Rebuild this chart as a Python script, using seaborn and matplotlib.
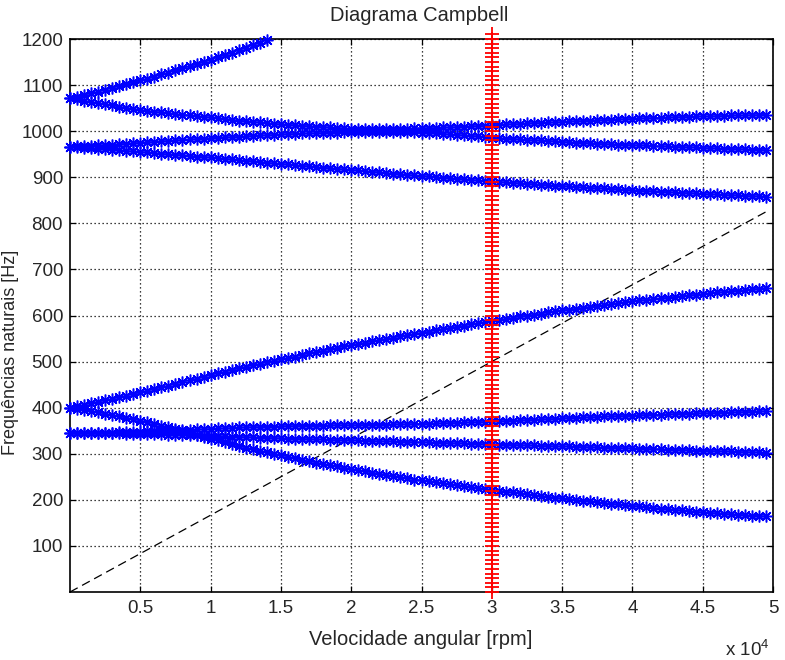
import numpy as np
import pandas as pd
import matplotlib
matplotlib.use("Agg")
import matplotlib.pyplot as plt
import seaborn as sns

# ---------------- data ----------------
rpm = np.arange(0, 50000, 500)            # sampling grid of the rotor speed (rpm)
rpm_a = rpm[:29]                          # first mode leaves the plot above 1200 Hz

mode_a = [1072, 1075, 1079, 1082, 1086, 1090, 1094, 1098, 1102, 1106,
          1110, 1114, 1118, 1123, 1127, 1132, 1136, 1141, 1145, 1150,
          1155, 1160, 1165, 1170, 1176, 1181, 1187, 1192, 1198]

mode_b = [1072, 1069, 1066, 1063, 1061, 1058, 1056, 1053, 1051, 1048,
          1046, 1044, 1042, 1041, 1039, 1037, 1036, 1034, 1033, 1031,
          1030, 1028, 1027, 1025, 1023, 1022, 1020, 1019, 1017, 1016,
          1015, 1014, 1013, 1012, 1011, 1010, 1009, 1008, 1007, 1006,
          1005, 1005, 1004, 1004, 1004, 1004, 1004, 1005, 1005, 1006,
          1006, 1007, 1007, 1008, 1008, 1009, 1010, 1011, 1011, 1012,
          1013, 1014, 1015, 1015, 1016, 1017, 1018, 1018, 1019, 1019,
          1020, 1021, 1022, 1022, 1023, 1024, 1024, 1025, 1026, 1026,
          1027, 1028, 1028, 1029, 1029, 1030, 1030, 1031, 1031, 1032,
          1032, 1032, 1033, 1033, 1034, 1034, 1034, 1035, 1035, 1036]

mode_c = [966, 967, 968, 968, 969, 970, 971, 972, 973, 974,
          975, 976, 977, 978, 979, 980, 981, 982, 983, 984,
          985, 986, 987, 987, 988, 989, 990, 991, 991, 992,
          993, 994, 994, 995, 995, 996, 996, 997, 997, 998,
          998, 998, 999, 999, 999, 999, 999, 999, 998, 998,
          997, 996, 995, 994, 993, 992, 991, 990, 989, 987,
          986, 985, 984, 983, 982, 981, 980, 980, 979, 978,
          977, 976, 975, 975, 974, 973, 972, 972, 971, 970,
          970, 969, 969, 968, 967, 967, 966, 966, 965, 965,
          964, 963, 963, 962, 962, 961, 961, 960, 960, 959]

mode_d = [966, 965, 964, 963, 962, 961, 960, 959, 957, 956,
          955, 954, 953, 951, 950, 949, 948, 947, 945, 944,
          943, 942, 940, 939, 937, 936, 935, 933, 932, 930,
          929, 928, 926, 925, 924, 922, 921, 920, 918, 917,
          916, 915, 913, 912, 911, 909, 908, 907, 905, 904,
          903, 902, 900, 899, 898, 897, 896, 894, 893, 892,
          891, 890, 889, 888, 887, 886, 885, 884, 883, 882,
          881, 880, 879, 878, 877, 876, 876, 875, 874, 873,
          872, 871, 870, 870, 869, 868, 867, 866, 866, 865,
          864, 863, 863, 862, 861, 861, 860, 859, 859, 858]

mode_e = [400, 403, 406, 410, 413, 416, 419, 423, 426, 430,
          433, 437, 441, 444, 448, 452, 456, 460, 463, 467,
          471, 475, 478, 482, 485, 489, 492, 495, 499, 502,
          505, 508, 511, 515, 518, 521, 524, 527, 530, 533,
          536, 539, 541, 544, 547, 549, 552, 555, 558, 560,
          563, 565, 568, 571, 573, 576, 578, 581, 583, 586,
          588, 590, 593, 595, 598, 600, 602, 604, 607, 609,
          611, 613, 615, 617, 619, 621, 623, 625, 627, 629,
          631, 633, 634, 636, 637, 639, 641, 642, 644, 645,
          647, 648, 650, 651, 653, 654, 655, 657, 658, 660]

mode_g = [400, 397, 395, 392, 390, 387, 384, 381, 378, 375,
          372, 369, 365, 361, 358, 354, 350, 346, 341, 337,
          333, 329, 325, 321, 317, 313, 310, 306, 303, 300,
          297, 294, 290, 287, 284, 281, 278, 275, 273, 270,
          267, 264, 262, 259, 257, 254, 252, 249, 247, 244,
          242, 240, 238, 236, 234, 232, 230, 228, 226, 224,
          222, 220, 218, 216, 214, 212, 210, 208, 207, 205,
          203, 201, 200, 198, 197, 195, 193, 192, 190, 189,
          187, 186, 184, 183, 181, 180, 179, 177, 176, 174,
          173, 172, 171, 170, 169, 168, 167, 166, 165, 164]

mode_h = [345, 345, 345, 346, 346, 346, 346, 347, 347, 347,
          348, 349, 349, 350, 350, 351, 352, 352, 353, 353,
          354, 355, 355, 356, 357, 357, 358, 358, 359, 359,
          360, 360, 360, 361, 361, 361, 361, 362, 362, 362,
          362, 362, 363, 363, 363, 363, 364, 364, 364, 365,
          365, 365, 366, 366, 367, 367, 368, 368, 369, 369,
          370, 371, 371, 372, 373, 373, 374, 375, 375, 376,
          377, 378, 378, 379, 379, 380, 381, 381, 382, 382,
          383, 384, 384, 385, 385, 386, 386, 387, 387, 388,
          388, 388, 389, 389, 390, 390, 391, 391, 392, 392]

mode_i = [345, 345, 345, 345, 344, 344, 344, 344, 343, 343,
          343, 343, 342, 342, 341, 341, 341, 340, 340, 339,
          339, 338, 338, 337, 337, 336, 336, 335, 335, 334,
          334, 333, 333, 332, 332, 331, 331, 330, 330, 329,
          329, 329, 328, 328, 327, 327, 327, 326, 326, 325,
          325, 325, 324, 324, 323, 323, 323, 322, 322, 321,
          321, 320, 320, 319, 319, 318, 318, 317, 317, 316,
          316, 316, 315, 315, 314, 314, 313, 313, 313, 312,
          312, 311, 311, 310, 310, 309, 309, 308, 308, 307,
          307, 306, 306, 305, 305, 304, 304, 303, 303, 302]

# 1x excitation line (rpm / 60)
excitation_rpm = [0, 49500]
excitation_hz = [0, 825]

# operating speed marker line
operating_rpm = 30000
operating_hz = np.arange(0, 1220, 10)

xtick_values = [5000, 10000, 15000, 20000, 25000, 30000, 35000, 40000, 45000, 50000]
xtick_labels = ["0.5", "1", "1.5", "2", "2.5", "3", "3.5", "4", "4.5", "5"]
ytick_values = [100, 200, 300, 400, 500, 600, 700, 800, 900, 1000, 1100, 1200]
ytick_labels = ["100", "200", "300", "400", "500", "600", "700", "800", "900", "1000", "1100", "1200"]

title_text = "Diagrama Campbell"
xlabel_text = "Velocidade angular [rpm]"
ylabel_text = "Frequências naturais [Hz]"
exponent_text = "x 10$^4$"

# ---------------- style ----------------
sns.set_style("white")
plt.rcParams["font.family"] = ["Liberation Sans", "DejaVu Sans"]
plt.rcParams["mathtext.fontset"] = "custom"
plt.rcParams["mathtext.rm"] = "Liberation Sans"

FS = 13.5
W, H = 785, 660
fig = plt.figure(figsize=(W / 100, H / 100), dpi=100)
ax = fig.add_axes([70 / W, 1 - 592 / H, (773 - 70) / W, (592 - 39) / H])

asterisk = (8, 2, 0)
blue = (0, 0, 1)
curves = [(rpm_a, mode_a), (rpm, mode_b), (rpm, mode_c), (rpm, mode_d),
          (rpm, mode_e), (rpm, mode_g), (rpm, mode_h), (rpm, mode_i)]
for xs, ys in curves:
    df = pd.DataFrame({"rpm": xs, "hz": ys})
    sns.lineplot(data=df, x="rpm", y="hz", ax=ax, color=blue, linewidth=1.0,
                 marker=asterisk, markersize=8.5, markeredgewidth=1.1,
                 markeredgecolor=blue, markerfacecolor=blue,
                 sort=False, errorbar=None, zorder=3)

sns.lineplot(x=excitation_rpm, y=excitation_hz, ax=ax, color="black", linewidth=0.9,
             errorbar=None, zorder=2)
ax.lines[-1].set_dashes([7, 4])

red = (1, 0, 0)
op_df = pd.DataFrame({"rpm": [operating_rpm] * len(operating_hz), "hz": operating_hz})
sns.lineplot(data=op_df, x="rpm", y="hz", ax=ax, color=red, linewidth=1.3,
             marker="+", markersize=9.5, markeredgewidth=1.3,
             markeredgecolor=red, markerfacecolor=red, sort=False,
             estimator=None, errorbar=None, zorder=4)

for ln in ax.lines:
    ln.set_clip_on(False)

ax.set_xlim(0, 50000)
ax.set_ylim(0, 1200)
ax.set_xticks(xtick_values)
ax.set_xticklabels(xtick_labels)
ax.set_yticks(ytick_values)
ax.set_yticklabels(ytick_labels)
ax.set_xlabel("")
ax.set_ylabel("")

ax.grid(True, color="black", linestyle=(0, (1, 2.2)), linewidth=0.9)
ax.set_axisbelow(True)
ax.tick_params(axis="both", direction="in", length=4, width=0.9, color="black",
               labelsize=FS, top=True, right=True, bottom=True, left=True)
ax.tick_params(axis="x", pad=6)
ax.tick_params(axis="y", pad=5)
for sp in ax.spines.values():
    sp.set_visible(True)
    sp.set_color("black")
    sp.set_linewidth(1.2)

# labels
fig.text(421 / W, 1 - 645 / H, xlabel_text, ha="center", va="baseline", fontsize=14.5)
fig.text(770 / W, 1 - 656 / H, exponent_text, ha="right", va="baseline", fontsize=FS)
fig.text(19 / W, 1 - 352 / H, ylabel_text, rotation=90, ha="right", va="center", fontsize=13)
fig.text(419 / W, 1 - 21 / H, title_text, ha="center", va="baseline", fontsize=14.5)

fig.savefig("out.png", dpi=100)
